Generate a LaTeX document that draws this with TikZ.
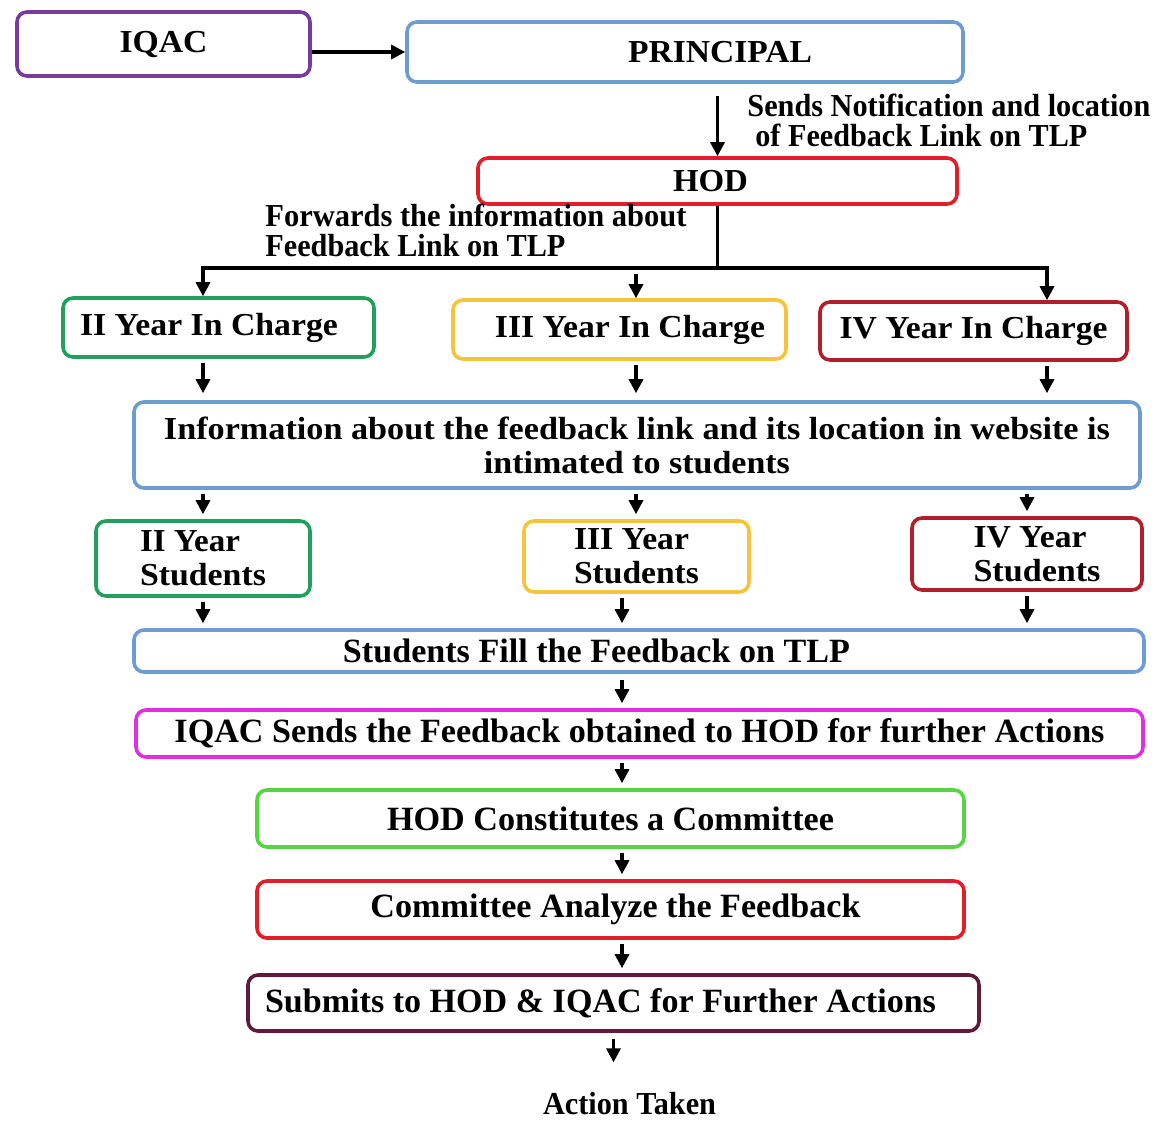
\documentclass[tikz,border=0pt]{standalone}
\usepackage{fontspec}
\setmainfont{Liberation Serif}
\usetikzlibrary{arrows.meta}

% one drawing unit
\newlength{\unitpx}\setlength{\unitpx}{0.5pt}
% set a line of text to a given width, keeping its height
\newcommand{\fw}[2]{\resizebox{#1\unitpx}{\height}{#2}}

\definecolor{cPurple}{RGB}{120,58,160}
\definecolor{cBlue}{RGB}{108,156,208}
\definecolor{cRed}{RGB}{226,30,42}
\definecolor{cGreen}{RGB}{32,160,92}
\definecolor{cGold}{RGB}{245,196,60}
\definecolor{cDarkRed}{RGB}{178,30,42}
\definecolor{cMagenta}{RGB}{228,44,228}
\definecolor{cLime}{RGB}{84,214,64}
\definecolor{cMaroon}{RGB}{96,26,62}

\tikzset{
  box/.style={draw, rounded corners=5pt, line width=1.8pt, fill=white,
    inner sep=0pt, align=center, font=\bfseries\fontsize{16}{17}\selectfont},
  lowbox/.style={box, font=\bfseries\fontsize{17}{18}\selectfont},
  lbl/.style={inner sep=0pt, align=left, font=\bfseries\fontsize{16}{15}\selectfont},
  arr/.style={line width=1.6pt, -{Triangle[length=7pt,width=7pt]},
    shorten <=2pt, shorten >=2.5pt},
  link/.style={line width=1.6pt}
}

\begin{document}
\begin{tikzpicture}[x=0.5pt, y=-0.5pt]
\fill[white] (0,0) rectangle (1156,1120);
\useasboundingbox (0,0) rectangle (1156,1120);

% column guides for the connectors
\coordinate (xL) at (203,268);
\coordinate (xM) at (636,268);
\coordinate (xR) at (1047,268);
\coordinate (xC) at (622,0);

% top of the chart
\node[box, draw=cPurple, minimum width=293\unitpx, minimum height=64\unitpx]
  (iqac) at (163.5,44) {\fw{88}{IQAC}};
\node[box, draw=cBlue, minimum width=556\unitpx, minimum height=60\unitpx]
  (principal) at (685,52) {\hspace*{70\unitpx}\fw{184}{PRINCIPAL}};
\node[box, draw=cRed, minimum width=479\unitpx, minimum height=46\unitpx]
  (hod) at (717.5,181) {\fw{75}{HOD}\hspace*{14\unitpx}};

\node[lbl, anchor=north west] (sendlbl) at (747,94)
  {\fw{403}{Sends Notification and location}\\\hspace*{8\unitpx}\fw{332}{of Feedback Link on TLP}};
\node[lbl, anchor=north west] (fwdlbl) at (265,204)
  {\fw{421}{Forwards the information about}\\\fw{300}{Feedback Link on TLP}};

% year in-charges
\node[box, draw=cGreen, minimum width=311\unitpx, minimum height=59\unitpx]
  (c2) at (218.5,327.5) {\fw{258}{II Year In Charge}\hspace*{19\unitpx}};
\node[box, draw=cGold, minimum width=333\unitpx, minimum height=59\unitpx]
  (c3) at (619.5,329.5) {\hspace*{21\unitpx}\fw{270}{III Year In Charge}};
\node[box, draw=cDarkRed, minimum width=307\unitpx, minimum height=58\unitpx]
  (c4) at (973.5,331) {\fw{268}{IV Year In Charge}};

\node[box, draw=cBlue, minimum width=1006\unitpx, minimum height=86\unitpx]
  (info) at (637,445)
  {\fw{946}{Information about the feedback link and its location in website is}\\\fw{306}{intimated to students}};

% students
\node[box, draw=cGreen, minimum width=214\unitpx, minimum height=75\unitpx, align=left]
  (s2) at (203,558.5) {\fw{100}{II Year}\\\fw{126}{Students}};
\node[box, draw=cGold, minimum width=225\unitpx, minimum height=71\unitpx, align=left]
  (s3) at (636.5,556.5) {\fw{115}{III Year}\\\fw{125}{Students}};
\node[box, draw=cDarkRed, minimum width=230\unitpx, minimum height=72\unitpx, align=left]
  (s4) at (1027,554) {\hspace*{20\unitpx}\fw{113}{IV Year}\\\hspace*{20\unitpx}\fw{127}{Students}};

% lower chain
\node[lowbox, draw=cBlue, minimum width=1010\unitpx, minimum height=42\unitpx]
  (fill) at (639,651) {\fw{507}{Students Fill the Feedback on TLP}\hspace*{85\unitpx}};
\node[lowbox, draw=cMagenta, minimum width=1007\unitpx, minimum height=47\unitpx]
  (sends) at (639.5,733.5) {\fw{930}{IQAC Sends the Feedback obtained to HOD for further Actions}};
\node[lowbox, draw=cLime, minimum width=707\unitpx, minimum height=57\unitpx]
  (const) at (610.5,818.5) {\fw{447}{HOD Constitutes a Committee}};
\node[lowbox, draw=cRed, minimum width=707\unitpx, minimum height=57\unitpx]
  (analyze) at (610.5,909.5) {\hspace*{10\unitpx}\fw{490}{Committee Analyze the Feedback}};
\node[lowbox, draw=cMaroon, minimum width=731\unitpx, minimum height=56\unitpx]
  (submit) at (613.5,1003) {\fw{671}{Submits to HOD \& IQAC for Further Actions}\hspace*{26\unitpx}};
\node[lbl, font=\bfseries\fontsize{16}{17}\selectfont] (action) at (629.5,1104) {\fw{173}{Action Taken}};

% connectors
\draw[arr, shorten <=0pt, shorten >=0pt] (iqac.east |- principal.west) -- (principal.west);
\draw[arr, shorten <=6pt, shorten >=0pt] (principal.south -| hod.north) -- (hod.north);

\draw[link] (hod.south) -- (hod.south |- xL);
\draw[arr, shorten <=0pt, shorten >=0pt] (hod.south |- xL) -| (c2.north -| xL);
\draw[arr, shorten <=0pt, shorten >=0pt] (hod.south |- xR) -| (c4.north -| xR);
\draw[arr, shorten <=3pt, shorten >=0pt] (xM) -- (c3.north -| xM);

\draw[arr, shorten >=3.5pt] (c2.south -| xL) -- (info.north -| xL);
\draw[arr, shorten >=3.5pt] (c3.south -| xM) -- (info.north -| xM);
\draw[arr, shorten >=3.5pt] (c4.south -| xR) -- (info.north -| xR);

\draw[arr] (info.south -| xL) -- (s2.north -| xL);
\draw[arr] (info.south -| xM) -- (s3.north -| xM);
\draw[arr] (info.south -| s4.north) -- (s4.north);

\draw[arr] (s2.south -| xL) -- (fill.north -| xL);
\draw[arr] (s3.south -| xC) -- (fill.north -| xC);
\draw[arr] (s4.south) -- (fill.north -| s4.south);

\draw[arr, shorten <=3pt] (fill.south -| xC) -- (sends.north -| xC);
\draw[arr] (sends.south -| xC) -- (const.north -| xC);
\draw[arr] (const.south -| xC) -- (analyze.north -| xC);
\draw[arr] (analyze.south -| xC) -- (submit.north -| xC);
\draw[arr, shorten <=3pt, shorten >=15pt] (submit.south) -- (submit.south |- action.north);
\end{tikzpicture}
\end{document}
